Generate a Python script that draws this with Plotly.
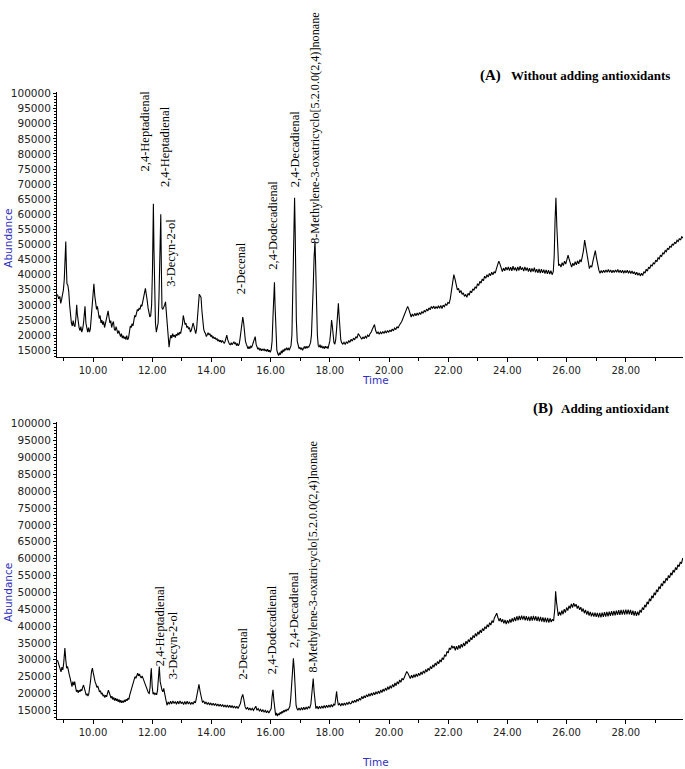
import plotly.graph_objects as go

W, H = 685, 769

# ---------------- data (retention time in min, abundance) ----------------
a_trace = [
    (8.80, 33500), (8.84, 32000), (8.88, 32800), (8.91, 30500), (8.94, 31800), (8.97, 33500), (9.00, 35000),
    (9.03, 38500), (9.06, 47000), (9.08, 51000), (9.10, 43000), (9.12, 37000), (9.15, 36500),
    (9.18, 34500), (9.21, 30000), (9.24, 25500), (9.27, 24000), (9.30, 23000), (9.33, 24800),
    (9.36, 23200), (9.39, 22800), (9.42, 25500), (9.45, 30000), (9.47, 27000), (9.50, 23500),
    (9.53, 22500), (9.56, 21500), (9.59, 22800), (9.62, 21000), (9.65, 22000), (9.68, 24000),
    (9.71, 27500), (9.73, 29500), (9.76, 24000), (9.79, 22000), (9.82, 21000), (9.85, 22500),
    (9.88, 21000), (9.91, 22000), (9.94, 26000), (9.97, 32000), (10.00, 35500), (10.03, 37000),
    (10.06, 33000), (10.09, 31000), (10.12, 28500), (10.15, 29500), (10.18, 27000), (10.21, 25500),
    (10.24, 26500), (10.27, 24000), (10.30, 25000), (10.33, 23500), (10.36, 24500), (10.39, 22500),
    (10.42, 23800), (10.45, 25000), (10.48, 27000), (10.51, 28000), (10.54, 26000), (10.57, 24000),
    (10.60, 24800), (10.63, 22500), (10.66, 23800), (10.69, 24500), (10.72, 22000), (10.75, 21500),
    (10.78, 22800), (10.81, 21000), (10.84, 20500), (10.87, 21500), (10.90, 20000), (10.93, 19500),
    (10.96, 20500), (10.99, 19000), (11.02, 19800), (11.05, 18800), (11.08, 19500), (11.11, 18500),
    (11.14, 19800), (11.17, 18500), (11.20, 19000), (11.23, 21500), (11.26, 23000), (11.29, 22500),
    (11.32, 23800), (11.35, 23000), (11.38, 25000), (11.41, 26500), (11.44, 26000), (11.47, 27500),
    (11.50, 28500), (11.53, 28000), (11.56, 29000), (11.59, 28500), (11.62, 30000), (11.65, 29500),
    (11.68, 31500), (11.71, 32500), (11.74, 34000), (11.77, 35500), (11.80, 34000), (11.83, 31500),
    (11.86, 29000), (11.89, 27000), (11.92, 26000), (11.95, 26500), (11.98, 30000), (12.01, 42000),
    (12.04, 63500), (12.06, 48000), (12.08, 30000), (12.11, 24000), (12.14, 21000), (12.17, 22500),
    (12.20, 24000), (12.23, 33000), (12.26, 48000), (12.29, 60000), (12.31, 42000), (12.33, 29000),
    (12.36, 28500), (12.39, 29000), (12.42, 30000), (12.45, 31000), (12.48, 27000), (12.51, 22000),
    (12.54, 19000), (12.57, 16000), (12.60, 18500), (12.63, 20000), (12.66, 19000), (12.69, 20500),
    (12.72, 19500), (12.75, 20000), (12.78, 19200), (12.81, 20300), (12.84, 19800), (12.87, 20800),
    (12.90, 20000), (12.93, 21000), (12.96, 20500), (12.99, 22000), (13.02, 23500), (13.05, 26500),
    (13.08, 25000), (13.11, 23500), (13.14, 24000), (13.17, 22500), (13.20, 23000), (13.23, 22000),
    (13.26, 22500), (13.29, 21000), (13.32, 21500), (13.35, 22500), (13.38, 24000), (13.41, 23000),
    (13.44, 21000), (13.47, 20500), (13.50, 22000), (13.53, 25500), (13.56, 30000), (13.59, 33500),
    (13.62, 33000), (13.65, 32500), (13.68, 28000), (13.71, 24000), (13.74, 22000), (13.77, 21000),
    (13.80, 20500), (13.83, 19500), (13.86, 20000), (13.89, 20800), (13.92, 20000), (13.95, 20500),
    (13.98, 19500), (14.01, 20000), (14.04, 19000), (14.07, 19500), (14.10, 18800), (14.13, 19200),
    (14.16, 18500), (14.19, 18800), (14.22, 18000), (14.25, 18500), (14.28, 17800), (14.31, 18300),
    (14.34, 17500), (14.37, 18200), (14.40, 17800), (14.43, 17300), (14.46, 17800), (14.49, 19000),
    (14.52, 20000), (14.55, 18500), (14.58, 17500), (14.61, 17000), (14.64, 16800), (14.67, 17500),
    (14.70, 16800), (14.73, 17300), (14.76, 17800), (14.79, 17000), (14.82, 17500), (14.85, 16500),
    (14.88, 17200), (14.91, 16500), (14.94, 17000), (14.97, 19000), (15.00, 22000), (15.03, 25000),
    (15.06, 26000), (15.09, 24000), (15.12, 20000), (15.15, 18000), (15.18, 17000), (15.21, 16000),
    (15.24, 15500), (15.27, 16200), (15.30, 15500), (15.33, 16300), (15.36, 16000), (15.39, 16800),
    (15.42, 17800), (15.45, 18800), (15.48, 19500), (15.51, 17000), (15.54, 15800), (15.57, 15300),
    (15.60, 15800), (15.63, 15000), (15.66, 15600), (15.69, 14800), (15.72, 15400), (15.75, 14900),
    (15.78, 15500), (15.81, 14700), (15.84, 15200), (15.87, 14600), (15.90, 15300), (15.93, 14500),
    (15.96, 15000), (15.99, 14300), (16.02, 15200), (16.05, 18000), (16.08, 26000), (16.11, 35000),
    (16.13, 37500), (16.15, 30000), (16.18, 20000), (16.21, 15000), (16.24, 14000), (16.27, 13200),
    (16.30, 14200), (16.33, 13500), (16.36, 14800), (16.39, 14000), (16.42, 15200), (16.45, 14500),
    (16.48, 15500), (16.51, 15000), (16.54, 15800), (16.57, 15200), (16.60, 15600), (16.63, 15000),
    (16.66, 15800), (16.69, 16500), (16.72, 20000), (16.75, 32000), (16.78, 50000), (16.81, 65500),
    (16.83, 55000), (16.85, 38000), (16.87, 25000), (16.90, 18000), (16.93, 16500), (16.96, 15500),
    (16.99, 16000), (17.02, 15200), (17.05, 15800), (17.08, 15000), (17.11, 15600), (17.14, 16200),
    (17.17, 15500), (17.20, 16300), (17.23, 15600), (17.26, 16200), (17.29, 16000), (17.32, 16800),
    (17.35, 17500), (17.38, 20000), (17.41, 26000), (17.44, 36000), (17.47, 46000), (17.50, 51000),
    (17.52, 44000), (17.55, 30000), (17.58, 20000), (17.61, 16500), (17.64, 16000), (17.67, 16800),
    (17.70, 15800), (17.73, 16500), (17.76, 15600), (17.79, 16200), (17.82, 15500), (17.85, 16300),
    (17.88, 15700), (17.91, 16200), (17.94, 15500), (17.97, 16800), (18.00, 18000), (18.03, 21000),
    (18.06, 25000), (18.08, 23500), (18.11, 19000), (18.14, 17500), (18.17, 17000), (18.20, 18500),
    (18.23, 22000), (18.26, 27000), (18.29, 30500), (18.31, 27000), (18.34, 21000), (18.37, 18500),
    (18.40, 17500), (18.44, 17000), (18.48, 17600), (18.52, 16900), (18.56, 17800), (18.60, 17200),
    (18.64, 18200), (18.68, 17600), (18.72, 18600), (18.76, 18000), (18.80, 19000), (18.84, 18400),
    (18.88, 19500), (18.92, 19000), (18.96, 20500), (19.00, 19800), (19.04, 19200), (19.08, 18600),
    (19.12, 19400), (19.16, 18800), (19.20, 19600), (19.24, 19100), (19.28, 20000), (19.32, 19500),
    (19.36, 20500), (19.40, 21000), (19.44, 22000), (19.48, 23000), (19.51, 23500), (19.55, 21500),
    (19.59, 20500), (19.63, 21000), (19.67, 20300), (19.71, 21000), (19.75, 20400), (19.79, 21200),
    (19.83, 20600), (19.87, 21300), (19.91, 20700), (19.95, 21500), (19.99, 20900), (20.03, 21700),
    (20.07, 21100), (20.11, 22000), (20.15, 21400), (20.19, 22300), (20.23, 21800), (20.27, 22800),
    (20.31, 22300), (20.35, 23300), (20.39, 23800), (20.43, 24500), (20.47, 25500), (20.51, 26500),
    (20.55, 27500), (20.59, 28500), (20.63, 29500), (20.67, 28500), (20.71, 27000), (20.75, 26000),
    (20.79, 27000), (20.83, 26200), (20.87, 27200), (20.91, 26400), (20.95, 27300), (20.99, 26600),
    (21.03, 27500), (21.07, 26800), (21.11, 27800), (21.15, 27200), (21.19, 28200), (21.23, 27600),
    (21.27, 28600), (21.31, 28000), (21.35, 29000), (21.39, 28400), (21.43, 29500), (21.47, 28800),
    (21.51, 29600), (21.55, 28700), (21.59, 29500), (21.63, 28800), (21.67, 29700), (21.71, 28900),
    (21.75, 29800), (21.79, 28800), (21.83, 29900), (21.87, 29400), (21.91, 30300), (21.95, 29800),
    (21.99, 30800), (22.03, 30500), (22.07, 32000), (22.11, 34500), (22.15, 37500), (22.19, 40000),
    (22.23, 38500), (22.27, 36000), (22.31, 35000), (22.35, 35500), (22.39, 34000), (22.43, 34800),
    (22.47, 33500), (22.51, 34000), (22.55, 32800), (22.59, 33500), (22.63, 32500), (22.67, 33800),
    (22.71, 33200), (22.75, 34600), (22.79, 34000), (22.83, 35300), (22.87, 34800), (22.91, 36000),
    (22.95, 35500), (22.99, 37000), (23.03, 36400), (23.07, 37800), (23.11, 37200), (23.15, 38600),
    (23.19, 38000), (23.23, 39500), (23.27, 38800), (23.31, 40000), (23.35, 39200), (23.39, 40400),
    (23.43, 39700), (23.47, 40800), (23.51, 40000), (23.55, 41000), (23.59, 40500), (23.63, 42000),
    (23.67, 43000), (23.71, 44500), (23.75, 43500), (23.79, 42000), (23.83, 41000), (23.87, 42200),
    (23.91, 41300), (23.95, 42500), (23.99, 41500), (24.03, 42600), (24.07, 41400), (24.11, 42500),
    (24.15, 41300), (24.19, 42800), (24.23, 41500), (24.27, 42400), (24.31, 41200), (24.35, 42600),
    (24.39, 41400), (24.43, 42800), (24.47, 41600), (24.51, 42400), (24.55, 41200), (24.59, 42600),
    (24.63, 41400), (24.67, 42300), (24.71, 41000), (24.75, 42200), (24.79, 40900), (24.83, 42100),
    (24.87, 41000), (24.91, 42300), (24.95, 40800), (24.99, 41800), (25.03, 40600), (25.07, 41900),
    (25.11, 40500), (25.15, 41800), (25.19, 40600), (25.23, 41700), (25.27, 40400), (25.31, 41600),
    (25.35, 40300), (25.39, 41500), (25.43, 40200), (25.47, 41300), (25.51, 40000), (25.55, 41000),
    (25.58, 46000), (25.61, 58000), (25.64, 65500), (25.67, 56000), (25.70, 46000), (25.73, 43000),
    (25.77, 43500), (25.81, 42500), (25.85, 44000), (25.89, 43000), (25.93, 44500), (25.97, 43500),
    (26.01, 45000), (26.05, 46500), (26.09, 45000), (26.13, 43500), (26.17, 42500), (26.21, 43800),
    (26.25, 43000), (26.29, 44300), (26.33, 43300), (26.37, 44600), (26.41, 43600), (26.45, 45000),
    (26.49, 44200), (26.53, 46000), (26.57, 48000), (26.61, 51500), (26.65, 49000), (26.69, 46000),
    (26.73, 43500), (26.77, 42000), (26.81, 43000), (26.85, 42500), (26.89, 44500), (26.93, 46500),
    (26.97, 48000), (27.01, 45500), (27.05, 43000), (27.09, 41500), (27.13, 40500), (27.17, 41400),
    (27.21, 40600), (27.25, 41500), (27.29, 40700), (27.33, 41600), (27.37, 40800), (27.41, 41700),
    (27.45, 40800), (27.49, 41600), (27.53, 40600), (27.57, 41500), (27.61, 40700), (27.65, 41600),
    (27.69, 40800), (27.73, 41700), (27.77, 40700), (27.81, 41500), (27.85, 40600), (27.89, 41500),
    (27.93, 40500), (27.97, 41400), (28.01, 40600), (28.05, 41500), (28.09, 40500), (28.13, 41300),
    (28.17, 40400), (28.21, 41200), (28.25, 40300), (28.29, 41000), (28.33, 40000), (28.37, 40800),
    (28.41, 39800), (28.45, 40600), (28.49, 39600), (28.53, 40500), (28.57, 39700), (28.61, 41000),
    (28.65, 40500), (28.69, 41800), (28.73, 41200), (28.77, 42500), (28.81, 42000), (28.85, 43300),
    (28.89, 42800), (28.93, 44000), (28.97, 43500), (29.01, 44800), (29.05, 44300), (29.09, 45600),
    (29.13, 45200), (29.17, 46500), (29.21, 46000), (29.25, 47300), (29.29, 46800), (29.33, 48000),
    (29.37, 47600), (29.41, 48800), (29.45, 48300), (29.49, 49500), (29.53, 49000), (29.57, 50200),
    (29.61, 49700), (29.65, 50800), (29.69, 50300), (29.73, 51400), (29.77, 51000), (29.81, 52000),
    (29.85, 51500), (29.89, 52600), (29.93, 52200), (29.97, 53000),
]

b_trace = [
    (8.80, 29900), (8.84, 28500), (8.89, 27500), (8.92, 26400), (8.95, 27800), (8.98, 27000), (9.01, 29000),
    (9.03, 31500), (9.05, 33500), (9.08, 30000), (9.11, 27500), (9.14, 28000), (9.17, 26000),
    (9.20, 25500), (9.23, 24500), (9.26, 23000), (9.29, 22000), (9.32, 23500), (9.35, 22500),
    (9.38, 23500), (9.41, 22000), (9.44, 20500), (9.47, 21000), (9.50, 20200), (9.53, 21000),
    (9.56, 20500), (9.59, 21200), (9.62, 20800), (9.65, 21800), (9.68, 22500), (9.71, 21500),
    (9.74, 20000), (9.77, 19500), (9.80, 19800), (9.83, 19200), (9.86, 20000), (9.89, 21500),
    (9.92, 24000), (9.95, 26500), (9.98, 27500), (10.01, 26000), (10.04, 24500), (10.07, 23500),
    (10.10, 22800), (10.13, 21800), (10.16, 22200), (10.19, 21000), (10.22, 20500), (10.25, 20800),
    (10.28, 19800), (10.31, 20200), (10.34, 19200), (10.37, 19600), (10.40, 18800), (10.43, 19500),
    (10.46, 19000), (10.49, 20000), (10.52, 21000), (10.55, 20200), (10.58, 19000), (10.61, 18600),
    (10.64, 19200), (10.67, 18200), (10.70, 18800), (10.73, 17900), (10.76, 18600), (10.79, 17800),
    (10.82, 18400), (10.85, 17500), (10.88, 18200), (10.91, 17300), (10.94, 18000), (10.97, 17200),
    (11.00, 17800), (11.03, 17300), (11.06, 18100), (11.09, 17500), (11.12, 18300), (11.15, 17800),
    (11.18, 18600), (11.21, 18200), (11.24, 19500), (11.27, 20500), (11.30, 21500), (11.33, 22500),
    (11.36, 23500), (11.39, 24500), (11.42, 25000), (11.45, 24500), (11.48, 25500), (11.51, 26000),
    (11.54, 25200), (11.57, 25800), (11.60, 25000), (11.63, 24600), (11.66, 25200), (11.69, 24400),
    (11.72, 24000), (11.75, 23000), (11.78, 22200), (11.81, 21800), (11.84, 21000), (11.87, 20200),
    (11.90, 20000), (11.93, 22000), (11.95, 25500), (11.97, 27500), (12.00, 22000), (12.03, 19800),
    (12.06, 20200), (12.09, 19700), (12.12, 20000), (12.15, 19600), (12.18, 21000), (12.21, 24500),
    (12.24, 28000), (12.27, 23500), (12.30, 21500), (12.33, 21000), (12.36, 20500), (12.39, 21500),
    (12.42, 20000), (12.45, 18500), (12.48, 17000), (12.50, 16500), (12.54, 17500), (12.58, 16800),
    (12.62, 17700), (12.66, 16900), (12.70, 17800), (12.74, 17000), (12.78, 17600), (12.82, 16800),
    (12.86, 17700), (12.90, 16900), (12.94, 17800), (12.98, 17000), (13.02, 17500), (13.06, 16700),
    (13.10, 17600), (13.14, 16800), (13.18, 17700), (13.22, 16900), (13.26, 17500), (13.30, 16700),
    (13.34, 17400), (13.38, 16800), (13.42, 17600), (13.46, 17200), (13.50, 19000), (13.54, 21500),
    (13.58, 22700), (13.62, 20500), (13.66, 18500), (13.70, 17300), (13.74, 17800), (13.78, 16900),
    (13.82, 17500), (13.86, 16700), (13.90, 17300), (13.94, 16600), (13.98, 17200), (14.02, 16500),
    (14.06, 17100), (14.10, 16400), (14.14, 17000), (14.18, 16300), (14.22, 16900), (14.26, 16200),
    (14.30, 16800), (14.34, 16100), (14.38, 16700), (14.42, 16000), (14.46, 16600), (14.50, 15900),
    (14.54, 16600), (14.58, 15800), (14.62, 16500), (14.66, 15800), (14.70, 16400), (14.74, 15700),
    (14.78, 16300), (14.82, 15600), (14.86, 16200), (14.90, 15500), (14.94, 16300), (14.98, 17000),
    (15.02, 18800), (15.06, 19700), (15.10, 18000), (15.14, 16000), (15.18, 15300), (15.22, 15900),
    (15.26, 15100), (15.30, 15700), (15.34, 15000), (15.38, 15600), (15.42, 15000), (15.46, 15500),
    (15.50, 16200), (15.54, 15000), (15.58, 15500), (15.62, 14800), (15.66, 15300), (15.70, 14600),
    (15.74, 15200), (15.78, 14500), (15.82, 15000), (15.86, 14300), (15.90, 14900), (15.94, 14200),
    (15.98, 14800), (16.02, 15500), (16.05, 19000), (16.08, 21100), (16.11, 18000), (16.14, 14500),
    (16.17, 13500), (16.20, 14200), (16.23, 13300), (16.26, 14000), (16.29, 13600), (16.32, 14400),
    (16.35, 13900), (16.38, 14700), (16.41, 14200), (16.44, 15000), (16.47, 14500), (16.50, 15200),
    (16.53, 14700), (16.56, 15400), (16.59, 15000), (16.62, 15600), (16.65, 16200), (16.68, 18500),
    (16.71, 23000), (16.74, 28000), (16.77, 30400), (16.80, 27000), (16.83, 20500), (16.86, 16500),
    (16.89, 15500), (16.92, 15000), (16.96, 15700), (17.00, 15000), (17.04, 15800), (17.08, 15100),
    (17.12, 15900), (17.16, 15200), (17.20, 16000), (17.24, 15300), (17.28, 16100), (17.32, 15600),
    (17.36, 16800), (17.39, 19500), (17.42, 23000), (17.44, 24400), (17.47, 20500), (17.50, 17000),
    (17.53, 15500), (17.57, 16200), (17.61, 15400), (17.65, 16200), (17.69, 15500), (17.73, 16300),
    (17.77, 15600), (17.81, 16400), (17.85, 15700), (17.89, 16500), (17.93, 15800), (17.97, 16600),
    (18.01, 15900), (18.05, 16700), (18.09, 16000), (18.13, 16800), (18.17, 16500), (18.20, 18500),
    (18.23, 20600), (18.26, 18000), (18.29, 16500), (18.33, 17000), (18.37, 16300), (18.41, 17100),
    (18.45, 16400), (18.49, 17200), (18.53, 16500), (18.57, 17300), (18.61, 16700), (18.65, 17500),
    (18.69, 16900), (18.72, 17000), (18.76, 17800), (18.80, 17200), (18.84, 18000), (18.88, 17400),
    (18.92, 18300), (18.96, 17700), (19.00, 18600), (19.04, 18000), (19.08, 19100), (19.12, 18400),
    (19.16, 19300), (19.20, 18700), (19.24, 19600), (19.28, 19000), (19.32, 19900), (19.36, 19200),
    (19.40, 20100), (19.44, 19400), (19.48, 20300), (19.52, 19600), (19.56, 20500), (19.60, 19800),
    (19.64, 20700), (19.68, 20000), (19.72, 21000), (19.76, 20300), (19.80, 21300), (19.84, 20600),
    (19.88, 21600), (19.92, 20900), (19.96, 22000), (20.00, 21200), (20.04, 22300), (20.08, 21500),
    (20.12, 22700), (20.16, 21900), (20.20, 23100), (20.24, 22300), (20.28, 23500), (20.32, 22800),
    (20.36, 24000), (20.40, 23300), (20.44, 24500), (20.48, 24000), (20.52, 25000), (20.56, 25800),
    (20.60, 26500), (20.64, 26000), (20.68, 25200), (20.72, 24400), (20.76, 25400), (20.80, 24600),
    (20.84, 25600), (20.88, 24800), (20.92, 25800), (20.96, 25000), (21.00, 26000), (21.04, 25300),
    (21.08, 26400), (21.12, 25600), (21.16, 26700), (21.20, 26000), (21.24, 27100), (21.28, 26400),
    (21.32, 27500), (21.36, 26800), (21.40, 28000), (21.44, 27300), (21.48, 28500), (21.52, 27800),
    (21.56, 29000), (21.60, 28300), (21.64, 29500), (21.68, 28800), (21.72, 30000), (21.76, 29300),
    (21.80, 30600), (21.84, 30000), (21.88, 31500), (21.92, 31000), (21.96, 32500), (22.00, 32000),
    (22.04, 33500), (22.08, 33000), (22.12, 34200), (22.16, 33400), (22.20, 34000), (22.24, 32800),
    (22.28, 34000), (22.32, 33000), (22.36, 34300), (22.40, 33300), (22.44, 34600), (22.48, 33700),
    (22.52, 35000), (22.56, 34100), (22.60, 35500), (22.64, 34700), (22.68, 36000), (22.72, 35300),
    (22.76, 36600), (22.80, 35900), (22.84, 37200), (22.88, 36500), (22.92, 37800), (22.96, 37000),
    (23.00, 38300), (23.04, 37500), (23.08, 38800), (23.12, 38000), (23.16, 39300), (23.20, 38600),
    (23.24, 39800), (23.28, 39200), (23.32, 40400), (23.36, 39700), (23.40, 41000), (23.44, 40300),
    (23.48, 41600), (23.52, 41000), (23.56, 42400), (23.60, 43000), (23.64, 43800), (23.68, 42500),
    (23.72, 41500), (23.76, 42300), (23.80, 41200), (23.84, 42000), (23.88, 40800), (23.92, 41800),
    (23.96, 40600), (24.00, 41700), (24.04, 40800), (24.08, 42000), (24.12, 41000), (24.16, 42300),
    (24.20, 41300), (24.24, 42600), (24.28, 41500), (24.32, 42900), (24.36, 41700), (24.40, 43000),
    (24.44, 41800), (24.48, 43100), (24.52, 41900), (24.56, 43000), (24.60, 41700), (24.64, 42900),
    (24.68, 41600), (24.72, 42800), (24.76, 41500), (24.80, 42900), (24.84, 41600), (24.88, 43000),
    (24.92, 41700), (24.96, 42900), (25.00, 41500), (25.04, 42800), (25.08, 41400), (25.12, 42700),
    (25.16, 41300), (25.20, 42600), (25.24, 41200), (25.28, 42500), (25.32, 41100), (25.36, 42400),
    (25.40, 41000), (25.44, 42300), (25.48, 41200), (25.52, 42000), (25.56, 41500), (25.60, 45000),
    (25.63, 50300), (25.66, 47000), (25.69, 44000), (25.72, 43000), (25.76, 44200), (25.80, 43200),
    (25.84, 44600), (25.88, 43500), (25.92, 45000), (25.96, 44000), (26.00, 45500), (26.04, 44600),
    (26.08, 46000), (26.12, 45200), (26.16, 46600), (26.20, 45500), (26.24, 46800), (26.28, 45800),
    (26.32, 46500), (26.36, 45200), (26.40, 46000), (26.44, 44800), (26.48, 45600), (26.52, 44300),
    (26.56, 45200), (26.60, 43800), (26.64, 44800), (26.68, 43400), (26.72, 44500), (26.76, 43100),
    (26.80, 44200), (26.84, 42900), (26.88, 44000), (26.92, 42800), (26.96, 44000), (27.00, 42700),
    (27.04, 43900), (27.08, 42600), (27.12, 43900), (27.16, 42600), (27.20, 44000), (27.24, 42700),
    (27.28, 44100), (27.32, 42800), (27.36, 44200), (27.40, 42900), (27.44, 44300), (27.48, 43000),
    (27.52, 44400), (27.56, 43100), (27.60, 44500), (27.64, 43200), (27.68, 44600), (27.72, 43300),
    (27.76, 44700), (27.80, 43300), (27.84, 44800), (27.88, 43400), (27.92, 44800), (27.96, 43400),
    (28.00, 44900), (28.04, 43500), (28.08, 44900), (28.12, 43500), (28.16, 44800), (28.20, 43300),
    (28.24, 44600), (28.28, 43100), (28.32, 44400), (28.36, 43000), (28.40, 44300), (28.44, 43200),
    (28.48, 44800), (28.52, 44000), (28.56, 45500), (28.60, 44800), (28.64, 46300), (28.68, 45600),
    (28.72, 47200), (28.76, 46500), (28.80, 48100), (28.84, 47400), (28.88, 49000), (28.92, 48300),
    (28.96, 49900), (29.00, 49200), (29.04, 50800), (29.08, 50100), (29.12, 51700), (29.16, 51000),
    (29.20, 52600), (29.24, 51900), (29.28, 53400), (29.32, 52700), (29.36, 54200), (29.40, 53500),
    (29.44, 55000), (29.48, 54300), (29.52, 55800), (29.56, 55100), (29.60, 56600), (29.64, 55900),
    (29.68, 57400), (29.72, 56700), (29.76, 58200), (29.80, 57600), (29.84, 59000), (29.88, 58500),
    (29.92, 60000), (29.96, 59800), (29.98, 61000),
]

a_time = [p[0] for p in a_trace]
a_abund = [p[1] for p in a_trace]
b_time = [p[0] for p in b_trace]
b_abund = [p[1] for p in b_trace]

compounds_a = ["2,4-Heptadienal", "2,4-Heptadienal", "3-Decyn-2-ol", "2-Decenal",
               "2,4-Dodecadienal", "2,4-Decadienal",
               "8-Methylene-3-oxatricyclo[5.2.0.0(2,4)]nonane"]
compounds_b = ["2,4-Heptadienal", "3-Decyn-2-ol", "2-Decenal", "2,4-Dodecadienal",
               "2,4-Decadienal", "8-Methylene-3-oxatricyclo[5.2.0.0(2,4)]nonane"]

panel_titles = [("(A)", "Without adding antioxidants"), ("(B)", "Adding antioxidant")]

# ---------------- layout helpers (page pixels -> paper fractions) ----------------
def fx(px):
    return px / W

def fy(py):
    return 1 - py / H

def y_range(top_px, bottom_px, p100k, p15k):
    k = (p15k - p100k) / 85000.0
    return [15000 - (bottom_px - p15k) / k, 100000 + (p100k - top_px) / k]

X_LEFT, X_RIGHT = 57, 683          # page px of the x-axis ends
X_RANGE = [10 + (X_LEFT - 93) / 29.6, 10 + (X_RIGHT - 93) / 29.6]

SANS = "DejaVu Sans, Verdana, sans-serif"
SERIF = "Liberation Serif, Times New Roman, serif"
BLUE = "#2f2fc4"

fig = go.Figure()
fig.add_trace(go.Scatter(x=a_time, y=a_abund, mode="lines", xaxis="x", yaxis="y",
                         line=dict(color="black", width=1.1), hoverinfo="skip"))
fig.add_trace(go.Scatter(x=b_time, y=b_abund, mode="lines", xaxis="x2", yaxis="y2",
                         line=dict(color="black", width=1.1), hoverinfo="skip"))

def xaxis_cfg(anchor):
    return dict(domain=[fx(X_LEFT), fx(X_RIGHT)], range=X_RANGE, anchor=anchor,
                showline=True, linecolor="black", linewidth=1, mirror=False,
                ticks="outside", ticklen=4, tickcolor="black", tickwidth=1,
                tickmode="linear", tick0=10, dtick=2, tickformat=".2f",
                tickfont=dict(family=SANS, size=10, color="#222"),
                showgrid=False, zeroline=False,
                minor=dict(dtick=1, tick0=10, ticklen=3, ticks="outside", tickcolor="black", showgrid=False))

def yaxis_cfg(anchor, top_px, bottom_px, p100k, p15k):
    return dict(domain=[fy(bottom_px), fy(top_px)], range=y_range(top_px, bottom_px, p100k, p15k),
                anchor=anchor, showline=True, linecolor="black", linewidth=1,
                ticks="outside", ticklen=3, tickcolor="black", tickwidth=1,
                tickmode="linear", tick0=0, dtick=5000, tickformat="d",
                tickfont=dict(family=SANS, size=10.5, color="#222"),
                showgrid=False, zeroline=False,
                minor=dict(dtick=1000, tick0=0, ticklen=2, ticks="outside", tickcolor="black", showgrid=False))

fig.update_layout(
    width=W, height=H, margin=dict(l=0, r=0, t=0, b=0),
    paper_bgcolor="white", plot_bgcolor="white", showlegend=False,
    xaxis=xaxis_cfg("y"), yaxis=yaxis_cfg("x", 88, 355, 90, 348),
    xaxis2=xaxis_cfg("y2"), yaxis2=yaxis_cfg("x2", 420, 719, 422, 710),
)

ann = []
# compound labels (rotated), anchored at the bottom of the text: (time, abundance, font size)
pos_a = [(11.77, 73500, 12.5), (12.43, 68500, 12.5), (12.65, 35500, 12.5), (14.98, 33000, 12.5),
         (16.10, 41000, 12.5), (16.83, 68200, 12.5), (17.52, 49600, 12.2)]
pos_b = [(12.26, 27600, 12.5), (12.71, 23700, 12.5), (15.06, 23500, 12.5), (16.05, 25000, 12.5),
         (16.79, 33000, 12.5), (17.45, 25600, 12.2)]
for name, (tx, ty, fs) in zip(compounds_a, pos_a):
    ann.append(dict(x=tx, y=ty, xref="x", yref="y", text=name, showarrow=False,
                    textangle=-90, xanchor="center", yanchor="bottom",
                    font=dict(family=SERIF, size=fs, color="black")))
for name, (tx, ty, fs) in zip(compounds_b, pos_b):
    ann.append(dict(x=tx, y=ty, xref="x2", yref="y2", text=name, showarrow=False,
                    textangle=-90, xanchor="center", yanchor="bottom",
                    font=dict(family=SERIF, size=fs, color="black")))

# panel titles
for (tag, txt), ty, tagx, txtr in zip(panel_titles, [72, 407], [490, 543], [672, 672]):
    ann.append(dict(x=fx(tagx), y=fy(ty), xref="paper", yref="paper", text="<b>" + tag + "</b>",
                    showarrow=False, xanchor="center", yanchor="middle",
                    font=dict(family=SERIF, size=15, color="black")))
    ann.append(dict(x=fx(txtr), y=fy(ty), xref="paper", yref="paper", text="<b>" + txt + "</b>",
                    showarrow=False, xanchor="right", yanchor="middle",
                    font=dict(family=SERIF, size=13, color="black")))

# axis titles
for ty_abund, ty_time in [(236, 378), (592, 762)]:
    ann.append(dict(x=fx(8), y=fy(ty_abund), xref="paper", yref="paper", text="Abundance",
                    showarrow=False, textangle=-90, xanchor="center", yanchor="middle",
                    font=dict(family=SANS, size=10.5, color=BLUE)))
    ann.append(dict(x=fx(375), y=fy(ty_time), xref="paper", yref="paper", text="Time",
                    showarrow=False, xanchor="center", yanchor="middle",
                    font=dict(family=SANS, size=10.5, color=BLUE)))

fig.update_layout(annotations=ann)
# remove the default 8 px page margin so the figure fills the window exactly; hide the mode bar
fig.write_html("out.html", config={"displayModeBar": False, "staticPlot": True},
               post_script="document.body.style.margin='0px';")
